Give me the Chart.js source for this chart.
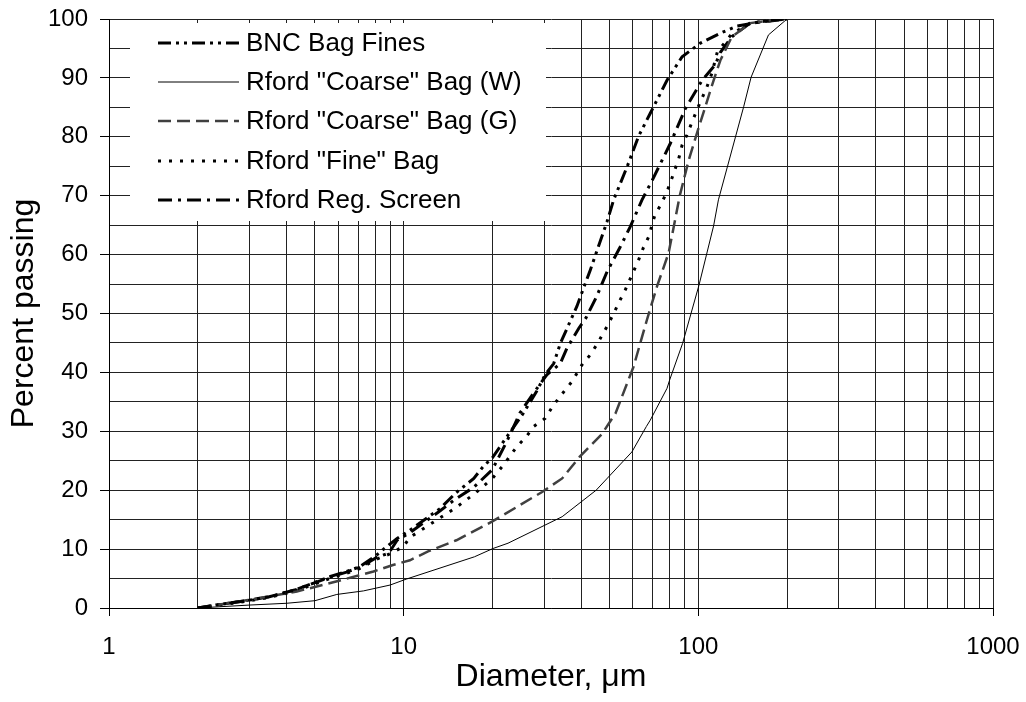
<!DOCTYPE html>
<html><head><meta charset="utf-8">
<script src="https://cdn.jsdelivr.net/npm/chart.js@4.4.1/dist/chart.umd.min.js"></script>
<style>html,body{margin:0;padding:0;background:#fff;overflow:hidden}#wrap{width:1026px;height:702px}</style>
</head><body><div id="wrap"><canvas id="c" width="1026" height="702"></canvas></div>
<script>
// ---- data (diameter in µm, percent passing) ----
const bncX = [2, 2.3, 2.8, 3.5, 4.3, 5.6, 6.4, 7.1, 8.1, 8.75, 9.5, 10.5, 13.3, 15, 17.3, 18.6, 20, 21.3, 23, 25.5, 28.2, 30.2, 32.3, 34, 38.7, 43, 49, 51.6, 57.3, 62.7, 68.7, 78.3, 88.1, 101.6, 118.9, 135, 175, 200];
const bncY = [0, 0.5, 1.1, 1.9, 3.1, 5.3, 6.2, 7.0, 9.0, 10.4, 11.8, 13.2, 16.9, 19.5, 22, 24, 25.5, 27.5, 29.9, 33.1, 36.7, 39.6, 41.5, 44.9, 51.2, 57.4, 65.6, 69.3, 74.9, 80.1, 84, 89.6, 93.6, 95.9, 97.6, 98.8, 99.8, 100];

const coarseWX = [2, 3, 4, 5, 5.93, 7.3, 9, 10.2, 17.4, 20.1, 22.6, 34.5, 45, 59.5, 66.6, 68.7, 78.3, 79.9, 88.4, 100.5, 112.7, 117, 142.5, 151, 173, 200];
const coarseWY = [0, 0.5, 0.8, 1.24, 2.3, 2.9, 3.9, 4.9, 8.7, 10.1, 11.0, 15.5, 20.0, 26.5, 30.8, 31.9, 37.3, 38.7, 44.9, 54.8, 64.9, 69.3, 85.1, 90.1, 97.3, 100];

const coarseGX = [2, 3, 4.34, 5.9, 7.9, 9.2, 10.5, 12.1, 15.1, 20, 29.5, 34.5, 39.6, 47, 52.3, 60.3, 66.9, 72.4, 79.3, 86.5, 92.7, 98.9, 105.6, 112.7, 118.8, 130, 150, 177, 200];
const coarseGY = [0, 1.4, 2.8, 4.5, 6.2, 7.3, 8.1, 9.6, 11.5, 14.7, 19.7, 22, 25.7, 29.5, 33, 41, 48.9, 54.6, 60.3, 70, 76, 80.6, 85.1, 89.6, 93, 97, 99.3, 99.8, 100];

const fineX = [2, 2.3, 2.8, 3.5, 4.3, 5.6, 6.4, 7.1, 8.1, 9.1, 10, 10.5, 13, 15, 17.5, 20, 22, 24.2, 26.1, 27.6, 30.2, 32.3, 34.3, 37.2, 40.3, 43, 45.2, 49, 51.6, 54.3, 56.5, 60.2, 62.7, 65, 67.8, 71.2, 75, 78.3, 81, 85.8, 88.1, 91.4, 98.8, 107, 111.2, 116, 130, 150, 200];
const fineY = [0, 0.4, 1.0, 1.8, 2.9, 5.0, 5.9, 6.7, 8.3, 9.3, 10.5, 12.0, 15.0, 17.0, 19.5, 22, 24.5, 27.4, 29.1, 30.8, 32.2, 34.5, 36.2, 38.4, 41.3, 43, 44.7, 47.8, 50, 52.3, 54, 57.1, 59.1, 61.1, 63, 66.7, 68.7, 70.7, 72.7, 76.3, 78.6, 80.3, 84.5, 88.5, 90.8, 94.4, 97.5, 99.3, 100];

const regX = [2, 2.3, 2.8, 3.5, 4.3, 5.6, 6.4, 7.1, 8.1, 8.9, 9.5, 10.5, 13.3, 15, 17.3, 20, 22.5, 24.8, 27.6, 30.6, 34, 35.8, 39.3, 41.5, 45.2, 49, 54.3, 58.7, 64.4, 69.4, 80.4, 90.4, 103, 114, 119, 130, 150, 200];
const regY = [0, 0.5, 1.1, 1.9, 3.1, 5.2, 6.1, 6.9, 8.6, 9.3, 11.5, 12.8, 16.5, 18.5, 20.5, 23.5, 28.5, 33.1, 36.5, 39.6, 41.5, 44.1, 47.5, 49.2, 52.9, 57.1, 61.3, 64.7, 69.3, 72.4, 78.9, 84.8, 89.6, 92.2, 94.4, 97, 99.3, 100];

const seriesNames = ['BNC Bag Fines', 'Rford "Coarse" Bag (W)', 'Rford "Coarse" Bag (G)', 'Rford "Fine" Bag', 'Rford Reg. Screen'];
const xTickValues = [1,2,3,4,5,6,7,8,9,10,20,30,40,50,60,70,80,90,100,200,300,400,500,600,700,800,900,1000];
const xTickLabels = [1, 10, 100, 1000];
const yTickLabels = [0,10,20,30,40,50,60,70,80,90,100];

const FONT = '"Liberation Sans", Arial, Helvetica, sans-serif';
const pts = (xs, ys) => xs.map((x, i) => ({x, y: ys[i]}));

const styles = [
  {color:'#000000', width:3,   dash:[13,5,3,5,3,5]},
  {color:'#000000', width:1,   dash:[]},
  {color:'#404040', width:2.5, dash:[13,6]},
  {color:'#000000', width:3,   dash:[3,8]},
  {color:'#000000', width:3,   dash:[14,6,3,6]}
];
const dataSets = [pts(bncX,bncY), pts(coarseWX,coarseWY), pts(coarseGX,coarseGY), pts(fineX,fineY), pts(regX,regY)];

const boxLegend = {
  id: 'boxLegend',
  beforeDatasetsDraw(chart) {
    const {ctx, chartArea: a} = chart;
    const bx = a.left + 21, by = a.top + 4, bw = 416, bh = 198;
    ctx.save();
    ctx.fillStyle = '#ffffff';
    ctx.fillRect(bx, by, bw, bh);
    const rows = [24, 63, 102, 142, 181];
    ctx.font = '26px ' + FONT;
    ctx.textBaseline = 'middle';
    ctx.textAlign = 'left';
    seriesNames.forEach((name, i) => {
      const s = styles[i];
      const y = rows[i] + a.top;
      ctx.beginPath();
      ctx.strokeStyle = s.color;
      ctx.lineWidth = s.width;
      ctx.setLineDash(s.dash);
      ctx.moveTo(a.left + 49, y);
      ctx.lineTo(a.left + 130, y);
      ctx.stroke();
      ctx.setLineDash([]);
      ctx.fillStyle = '#000';
      ctx.fillText(name, a.left + 137, y + 1);
    });
    ctx.restore();
  }
};

new Chart(document.getElementById('c'), {
  type: 'line',
  data: {
    datasets: dataSets.map((d, i) => ({
      label: seriesNames[i],
      data: d,
      borderColor: styles[i].color,
      borderWidth: styles[i].width,
      borderDash: styles[i].dash,
      pointRadius: 0,
      tension: 0,
      fill: false
    }))
  },
  options: {
    responsive: false,
    animation: false,
    devicePixelRatio: 1,
    layout: {padding: {top: 19, right: 33, left: 0, bottom: 0}},
    plugins: {legend: {display: false}, tooltip: {enabled: false}},
    scales: {
      x: {
        type: 'logarithmic',
        min: 1, max: 1000,
        afterFit(s) { s.height = 94; s.paddingLeft = 0; s.paddingRight = 0; },
        afterBuildTicks(s) { s.ticks = xTickValues.map(v => ({value: v})); },
        ticks: {
          autoSkip: false, maxRotation: 0, padding: 17,
          color: '#000', font: {family: FONT, size: 24},
          callback: (v) => xTickLabels.includes(v) ? String(v) : ''
        },
        grid: {
          color: '#222', lineWidth: 1, tickLength: 8,
          tickColor: (c) => (c.tick && xTickLabels.includes(c.tick.value)) ? '#000' : 'rgba(0,0,0,0)'
        },
        border: {display: true, color: '#000', width: 1},
        title: {display: true, text: 'Diameter, μm', color: '#000', font: {family: FONT, size: 32}, padding: {top: 0, bottom: 6}}
      },
      y: {
        type: 'linear',
        min: 0, max: 100,
        afterFit(s) { s.width = 109; s.paddingTop = 0; s.paddingBottom = 0; },
        ticks: {
          stepSize: 5, autoSkip: false, padding: 12,
          color: '#000', font: {family: FONT, size: 24},
          callback: (v) => yTickLabels.includes(v) ? String(v) : ''
        },
        grid: {
          color: '#222', lineWidth: 1, tickLength: 9,
          tickColor: (c) => (c.tick && yTickLabels.includes(c.tick.value)) ? '#000' : 'rgba(0,0,0,0)'
        },
        border: {display: true, color: '#000', width: 1},
        title: {display: true, text: 'Percent passing', color: '#000', font: {family: FONT, size: 32}, padding: {top: 5, bottom: 0}}
      }
    }
  },
  plugins: [boxLegend]
});
</script></body></html>
